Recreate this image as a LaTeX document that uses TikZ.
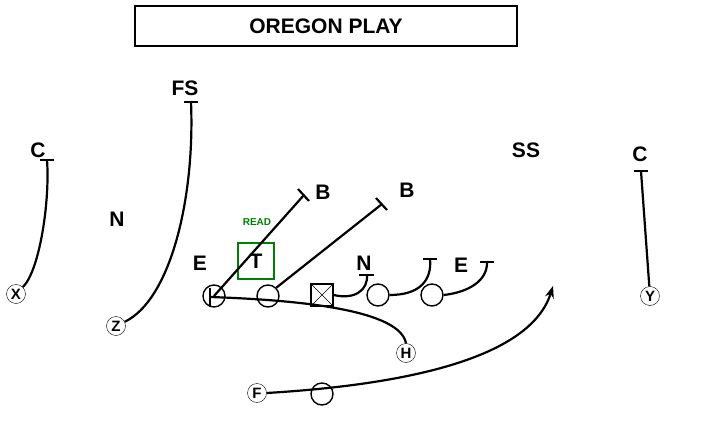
\documentclass[tikz,border=0pt]{standalone}
\usepackage{fontspec}
\setmainfont{Liberation Sans}
\usetikzlibrary{arrows.meta}
\tikzset{
  player/.style={circle,draw,line width=1.4pt,minimum size=22pt,inner sep=0pt},
  tag/.style={circle,draw,minimum size=19pt,inner sep=0pt,font=\bfseries\fontsize{15}{15}\selectfont},
  defender/.style={font=\bfseries\fontsize{21}{21}\selectfont},
  route/.style={line width=2.2pt},
  tbar/.style={line width=2.2pt}
}
\begin{document}
\begin{tikzpicture}[x=1pt,y=-1pt]
\useasboundingbox (0,0) rectangle (707,436);
% title
\node[draw,line width=1.8pt,minimum width=382pt,minimum height=40pt,font=\bfseries\fontsize{21}{21}\selectfont] (title) at (326,26) {OREGON PLAY};
% defense
\node[defender] (fs) at (185,88) {FS};
\node[defender] (cl) at (38,150) {C};
\node[defender] (nl) at (117,219) {N};
\node[defender] (ss) at (526,150) {SS};
\node[defender] (cr) at (640,154) {C};
\node[defender] (el) at (200,263) {E};
\node[defender] (b1) at (323,192) {B};
\node[defender] (b2) at (407,190) {B};
\node[defender] (n2) at (364,263) {N};
\node[defender] (er) at (461,265) {E};
\node[draw=green!50!black,line width=2.2pt,minimum size=36pt,font=\bfseries\fontsize{21}{21}\selectfont] (tk) at (256,261) {T};
\node[text=green!50!black,font=\bfseries\fontsize{10}{10}\selectfont] (read) at (257,222) {READ};
% offense
\node[player] (o1) at (214,296) {};
\node[player] (o2) at (268,296) {};
\node[draw,line width=1.4pt,minimum size=22pt,inner sep=0pt] (ctr) at (322,295) {};
\draw (ctr.north west) -- (ctr.south east) (ctr.north east) -- (ctr.south west);
\node[player] (o4) at (378,295) {};
\node[player] (o5) at (432,295) {};
\node[player] (qb) at (322,394) {};
\node[tag] (x) at (16,294) {X};
\node[tag] (z) at (116,326) {Z};
\node[tag] (y) at (650,296) {Y};
\node[tag] (h) at (406,353) {H};
\node[tag] (f) at (257,393) {F};
% routes and blocks
\coordinate (fsend) at (191,102);
\coordinate (clend) at (47,160);
\coordinate (crend) at (641,171);
\coordinate (b1end) at (304,195);
\coordinate (b2end) at (382,204);
\coordinate (nend) at (367,275);
\coordinate (dtend) at (430,259);
\coordinate (deend) at (487,263);
\coordinate (hend) at (210,297);
\draw[route] (z) .. controls (170,300) and (195,200) .. (fsend);
\draw[tbar] (184,102) -- (198,102);
\draw[route] (x) .. controls (40,270) and (50,200) .. (clend);
\draw[tbar] (40,160) -- (54,160);
\draw[route] (y) -- (crend);
\draw[tbar] (634,171) -- (648,171);
\draw[route] (o1.center) -- (b1end);
\draw[tbar] (298,189) -- (309,201);
\draw[route] (o2.north east) -- (b2end);
\draw[tbar] (376,198) -- (387,210);
\draw[route] (ctr.east) .. controls (355,300) and (368,290) .. (nend);
\draw[tbar] (359,275) -- (374,275);
\draw[route] (o4.east) .. controls (420,295) and (432,280) .. (dtend);
\draw[tbar] (423,259) -- (437,259);
\draw[route] (o5.east) .. controls (470,292) and (487,280) .. (deend);
\draw[tbar] (480,262) -- (494,262);
\draw[route] (h.north) .. controls (400,310) and (300,300) .. (hend);
\draw[tbar] (210,288) -- (210,306);
\draw[route,-{Stealth[length=12pt,width=9pt]}] (f.east) .. controls (400,385) and (530,360) .. (553,286);
\end{tikzpicture}
\end{document}
